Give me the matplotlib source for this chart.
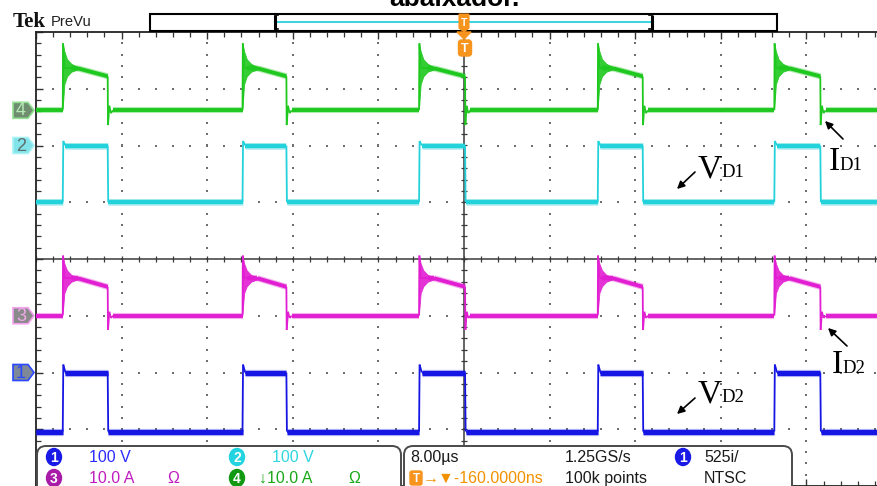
import matplotlib
matplotlib.use("Agg")
import matplotlib.pyplot as plt
from matplotlib.patches import Polygon, FancyBboxPatch, Ellipse, Rectangle
from matplotlib.collections import LineCollection
import numpy as np

# ---- acquisition settings ----
time_per_div = 8.0            # us/div
n_hdiv, n_vdiv = 10, 8
timebase_label = "8.00\u00b5s"
sample_label = "1.25GS/s"
record_label = "100k points"
trigger_label = "\u2192\u25bc-160.0000ns"

# diode switching instants (us, trigger at screen centre)
rise_us = [-37.5, -20.7, -4.2, 12.5, 29.0]
fall_us = [-33.3, -16.6, 0.1, 16.7, 33.3]

# diode voltages, V: conducting, blocking, turn-on overshoot
vd1_levels = [0.0, -100.0, 8.0]
vd2_levels = [0.0, -104.0, 14.0]

# diode currents, A
# ringing after turn-on: time after edge (us), upper / lower envelope (A)
ring_t = [0.0, 0.15, 0.4, 0.8, 1.4]
id1_ring_hi = [11.8, 10.4, 9.0, 8.2, 7.6]
id1_ring_lo = [0.5, 4.6, 6.0, 6.8, 7.2]
id2_ring_hi = [10.6, 9.2, 8.0, 7.2, 6.8]
id2_ring_lo = [0.5, 4.0, 5.2, 6.0, 6.4]
# conduction plateau: after ringing, at turn-off (A)
id1_plateau = [7.4, 6.0]
id2_plateau = [6.6, 5.1]
# turn-off tail: time after edge (us), current (A)
tail_t = [0.03, 0.15, 0.3, 0.5]
id1_tail = [-2.6, 0.8, -0.5, 0.0]
id2_tail = [-2.5, 0.7, -0.4, 0.0]

# channel settings: units/div, ground marker (div), colour
ch_scale = {1: 100.0, 2: 100.0, 3: 10.0, 4: 10.0}
ch_offset = {1: -2.0, 2: 2.0, 3: -1.0, 4: 2.62}
ch_color = {1: "#1616e4", 2: "#24d2dc", 3: "#e21ed2", 4: "#1ec81e"}

SANS = ["Liberation Sans", "DejaVu Sans"]
SERIF = ["Liberation Serif", "DejaVu Serif"]

W, H = 877, 486
fig = plt.figure(figsize=(W / 100, H / 100), dpi=100)
fig.patch.set_facecolor("white")

# graticule axes: 10 x 8 divisions, left edge at 36 px, top at 32 px
div_x, div_y = 85.6, 56.75
ax = fig.add_axes([36 / W, 0, n_hdiv * div_x / W, n_vdiv * div_y / H])
half_t = n_hdiv * time_per_div / 2
ax.set_xlim(-half_t, half_t)
ax.set_ylim(-n_vdiv / 2, n_vdiv / 2)
ax.set_facecolor("white")
for side in ("top", "left", "bottom", "right"):
    ax.spines[side].set_color("#222222")
    ax.spines[side].set_linewidth(1.3)
ax.set_xticks(np.arange(-half_t, half_t + 0.01, time_per_div))
ax.set_xticks(np.arange(-half_t, half_t + 0.01, time_per_div / 5), minor=True)
ax.set_yticks(np.arange(-4, 4.01, 1))
ax.set_yticks(np.arange(-4, 4.01, 0.2), minor=True)
ax.tick_params(which="both", direction="in", top=True, bottom=True, left=True,
               right=True, labelbottom=False, labelleft=False, color="#333333")
ax.tick_params(which="major", length=5, width=1.0)
ax.tick_params(which="minor", length=3.5, width=0.9)

# dotted graticule lines
gx, gy = [], []
for xv in np.arange(-half_t + time_per_div, half_t - 0.01, time_per_div):
    if abs(xv) < 1e-9:
        continue
    for yv in np.arange(-4 + 0.2, 4 - 0.1, 0.2):
        gx.append(xv); gy.append(yv)
for yv in range(-3, 4):
    if yv == 0:
        continue
    for xv in np.arange(-half_t + time_per_div / 5, half_t - 0.1, time_per_div / 5):
        gx.append(xv); gy.append(yv)
ax.scatter(gx, gy, s=2.2, marker="s", c="#6f6f6f", linewidths=0, zorder=1)

# centre cross with minor ticks
ax.axhline(0, color="#3a3a3a", lw=1.1, zorder=1)
ax.axvline(0, color="#3a3a3a", lw=1.1, zorder=1)
tx = np.arange(-half_t, half_t + 0.01, time_per_div / 5)
ax.scatter(tx, np.zeros_like(tx), marker="|", s=22, linewidths=0.9, c="#3a3a3a", zorder=1)
ty = np.arange(-4, 4.01, 0.2)
ax.scatter(np.zeros_like(ty), ty, marker="_", s=22, linewidths=0.9, c="#3a3a3a", zorder=1)


def to_div(ch, values):
    return ch_offset[ch] + np.asarray(values, dtype=float) / ch_scale[ch]


def voltage_trace(levels):
    on, off, over = levels
    t, v = [-half_t], [off]
    for r, f in zip(rise_us, fall_us):
        t += [r, r + 0.05, r + 0.25, f, f + 0.05]
        v += [off, on + over, on, on, off]
    t.append(half_t)
    v.append(off)
    return np.array(t), np.array(v)


def current_trace(hi, lo, plateau, tail):
    t, i = [-half_t], [0.0]
    for r, f in zip(rise_us, fall_us):
        t += [r, r + 0.03]
        i += [0.0, hi[0]]
        for dt, h, l in zip(ring_t[1:], hi[1:], lo[1:]):
            t.append(r + dt)
            i.append((h + l) / 2)
        t += [r + ring_t[-1], f]
        i += [plateau[0], plateau[1]]
        t += [f + dt for dt in tail_t]
        i += list(tail)
    t.append(half_t)
    i.append(0.0)
    return np.array(t), np.array(i)


def draw_trace(ch, t, y, lw):
    """Long (slow) segments drawn as a thick noisy band, fast edges thin."""
    c = ch_color[ch]
    pts = np.column_stack([t, y])
    segs = np.stack([pts[:-1], pts[1:]], axis=1)
    slow = np.diff(t) > 0.4
    ax.add_collection(LineCollection(segs, colors=c, linewidths=1.3,
                                     capstyle="butt", zorder=3))
    ax.add_collection(LineCollection(segs[slow], colors=c, linewidths=lw + 1.6,
                                     alpha=0.35, capstyle="butt", zorder=3))
    ax.add_collection(LineCollection(segs[slow], colors=c, linewidths=lw,
                                     capstyle="butt", zorder=4))


# voltage channels
t2, v2 = voltage_trace(vd1_levels)
draw_trace(2, t2, to_div(2, v2), 3.2)
t1, v1 = voltage_trace(vd2_levels)
draw_trace(1, t1, to_div(1, v1), 3.6)

# current channels with turn-on ringing bands
for ch, hi, lo, plat, tail in ((4, id1_ring_hi, id1_ring_lo, id1_plateau, id1_tail),
                               (3, id2_ring_hi, id2_ring_lo, id2_plateau, id2_tail)):
    tc, ic = current_trace(hi, lo, plat, tail)
    draw_trace(ch, tc, to_div(ch, ic), 2.8)
    for r in rise_us:
        tb = [r + dt for dt in ring_t]
        ax.fill_between(tb, to_div(ch, lo), to_div(ch, hi), color=ch_color[ch],
                        lw=0.6, alpha=0.9, zorder=4)

# ---- screen furniture in pixel coordinates ----
ov = fig.add_axes([0, 0, 1, 1], zorder=10)
ov.set_xlim(0, W)
ov.set_ylim(H, 0)
ov.axis("off")
ov.patch.set_alpha(0)


def to_px(x, y):
    d = ax.transData.transform((x, y))
    return ov.transData.inverted().transform(d)


# caption line running off the top edge
fig.text(454 / W, 1 - 6 / H, "abaixador.", ha="center", va="baseline",
         fontsize=19, fontweight="bold", family=SANS, color="black")

# Tek PreVu header
ov.text(13, 27, "Tek", fontsize=15, fontweight="bold", family=SERIF,
        va="baseline", ha="left", color="#111111")
ov.text(51, 26, "PreVu", fontsize=10.6, family=SANS, va="baseline", ha="left",
        color="#222222")

# record view bar
ov.add_patch(Rectangle((150, 14), 627, 17, fill=False, ec="black", lw=1.5))
ov.plot([276, 651], [22, 22], color="#2ad0dc", lw=1.3)
for xb, d in ((275, 1), (652, -1)):
    ov.plot([xb, xb], [15, 30], color="black", lw=2.2, solid_capstyle="butt")
    ov.plot([xb, xb + 3 * d], [15.5, 15.5], color="black", lw=1.2)
    ov.plot([xb, xb + 3 * d], [29.5, 29.5], color="black", lw=1.2)

# trigger position markers
orange = "#f7941d"
ov.add_patch(Polygon([(459, 14), (469, 14), (469, 28), (464, 32), (459, 28)],
                     closed=True, fc=orange, ec=orange, lw=0.8, zorder=12))
ov.text(464, 22.5, "T", color="white", fontsize=7.5, fontweight="bold",
        ha="center", va="center", family=SANS, zorder=13)
ov.add_patch(Polygon([(457, 32), (471, 32), (464, 39)], closed=True,
                     fc=orange, ec=orange, zorder=12))
ov.add_patch(FancyBboxPatch((458.5, 40), 13, 16,
                            boxstyle="round,pad=0,rounding_size=3",
                            fc=orange, ec=orange, zorder=12))
ov.text(465, 48.5, "T", color="white", fontsize=9, fontweight="bold",
        ha="center", va="center", family=SANS, zorder=13)

# channel ground markers
marker_style = {
    4: ("#6f8d6f", "#92e092", "#b5eab5"),
    2: ("#80e4ea", "#a8f2f4", "#5f6d6d"),
    3: ("#8a8a8a", "#f2a2ee", "#f0a8e8"),
    1: ("#7e8898", "#2a48ff", "#2a48ff"),
}
for ch, (fc, ec, tc) in marker_style.items():
    _, yp = to_px(-half_t, ch_offset[ch])
    ov.add_patch(Polygon([(13, yp - 8), (28, yp - 8), (34, yp), (28, yp + 8),
                          (13, yp + 8)], closed=True, fc=fc, ec=ec, lw=1.2,
                         zorder=12))
    ov.text(21, yp + 0.5, str(ch), color=tc, fontsize=13, ha="center",
            va="center", family=SANS, zorder=13)

# trace labels
arrow = dict(arrowstyle="-|>", color="black", lw=1.2, mutation_scale=11,
             shrinkA=0, shrinkB=0)
labels = [
    ("V", "D1", 698, 177, (695, 172), (677, 189)),
    ("I", "D1", 829, 170, (843, 139), (825, 121)),
    ("V", "D2", 698, 402, (695, 398), (677, 414)),
    ("I", "D2", 832, 373, (847, 346), (828, 328)),
]
for big, sub, xl, yl, a0, a1 in labels:
    ov.text(xl, yl, big, fontsize=24, family=SERIF, va="baseline",
            ha="left", color="black")
    xs = xl + (23 if big == "V" else 10)
    ov.text(xs, yl, sub, fontsize=13.5, family=SERIF, va="baseline", ha="left",
            color="black")
    ov.annotate("", xy=a1, xytext=a0, arrowprops=arrow)

# readout panels
for x0, x1 in ((37, 401), (404, 792)):
    ov.add_patch(FancyBboxPatch((x0, 446), x1 - x0, 70,
                                boxstyle="round,pad=0,rounding_size=9",
                                fc="white", ec="#4a4a4a", lw=1.4, zorder=11))


def badge(x, y, ch, color):
    ov.add_patch(Ellipse((x, y), 15, 17, fc=color, ec=color, zorder=12))
    ov.text(x, y + 0.5, str(ch), color="white", fontsize=10, fontweight="bold",
            ha="center", va="center", family=SANS, zorder=13)


def readout(x, y, s, color):
    ov.text(x, y, s, color=color, fontsize=11.5, ha="left", va="center",
            family=SANS, zorder=13)


r1, r2 = 457, 478
badge(54, r1, 1, "#1a1ae6")
readout(89, r1, "100 V", "#2b2bff")
badge(237, r1, 2, "#22d3e0")
readout(272, r1, "100 V", "#2fd5e0")
badge(54, r2, 3, "#a81aa8")
readout(89, r2, "10.0 A", "#c01cc0")
readout(167, r2, "\u03a9", "#c01cc0")
badge(237, r2, 4, "#119911")
readout(259, r2, "\u219310.0 A", "#18a818")
readout(348, r2, "\u03a9", "#18a818")

readout(410, r1, timebase_label, "#1a1a1a")
readout(565, r1, sample_label, "#1a1a1a")
badge(683, r1, 1, "#1a1ae6")
readout(704, r1, "525i/", "#1a1a1a")
ov.add_patch(FancyBboxPatch((410, 471), 12, 14,
                            boxstyle="round,pad=0,rounding_size=2",
                            fc=orange, ec=orange, zorder=12))
ov.text(416, 478.5, "T", color="white", fontsize=8.5, fontweight="bold",
        ha="center", va="center", family=SANS, zorder=13)
readout(423, r2, trigger_label, "#f39200")
readout(565, r2, record_label, "#1a1a1a")
readout(704, r2, "NTSC", "#1a1a1a")

fig.savefig("out.png", dpi=100, facecolor="white")
